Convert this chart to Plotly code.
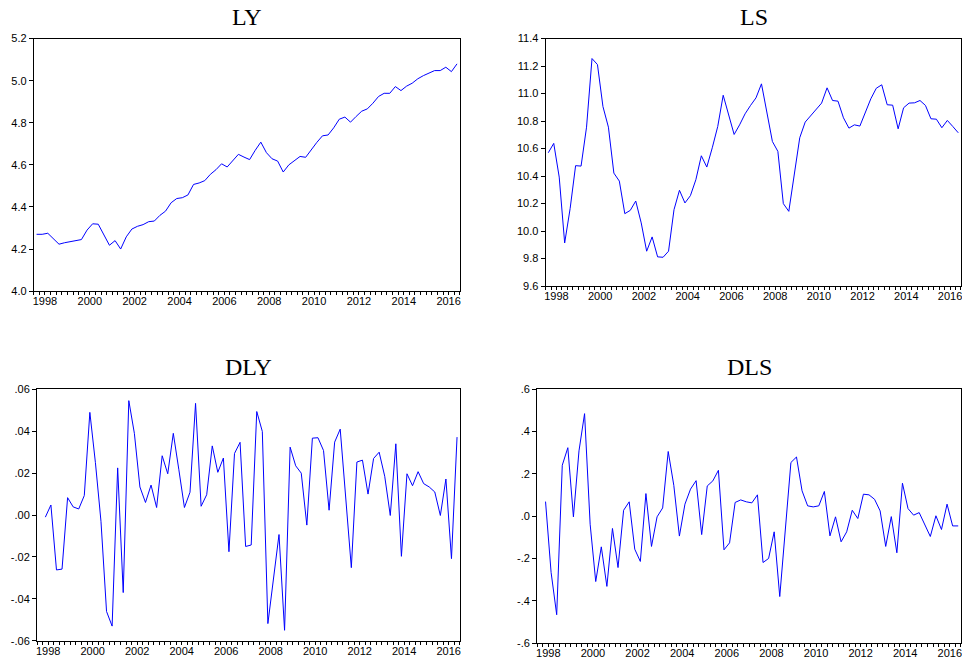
import plotly.graph_objects as go
import pandas as pd

# Quarterly sample 1998Q1 - 2016Q4
periods = pd.period_range("1998Q1", "2016Q4", freq="Q")

LY = [4.27, 4.27, 4.275, 4.25, 4.223, 4.23, 4.235, 4.237, 4.245, 4.29,
      4.32, 4.318, 4.27, 4.218, 4.24, 4.20, 4.258, 4.295, 4.308, 4.316,
      4.33, 4.333, 4.36, 4.38, 4.42, 4.44, 4.444, 4.457, 4.507, 4.514,
      4.525, 4.555, 4.577, 4.605, 4.59, 4.62, 4.65, 4.637, 4.625, 4.669,
      4.708, 4.658, 4.629, 4.618, 4.566, 4.60, 4.621, 4.64, 4.636, 4.672,
      4.707, 4.738, 4.742, 4.776, 4.817, 4.827, 4.803, 4.83, 4.855, 4.866,
      4.893, 4.925, 4.94, 4.94, 4.972, 4.953, 4.974, 4.988, 5.009, 5.024,
      5.037, 5.048, 5.048, 5.064, 5.043, 5.08]

LS = [10.57, 10.638, 10.393, 9.914, 10.164, 10.476, 10.473, 10.756, 11.255, 11.211,
      10.906, 10.756, 10.422, 10.364, 10.127, 10.151, 10.219, 10.06, 9.854, 9.958,
      9.813, 9.81, 9.854, 10.156, 10.297, 10.205, 10.258, 10.374, 10.548, 10.466,
      10.606, 10.761, 10.988, 10.835, 10.703, 10.773, 10.853, 10.914, 10.969, 11.071,
      10.865, 10.652, 10.58, 10.2, 10.144, 10.413, 10.679, 10.793, 10.841, 10.889,
      10.931, 11.042, 10.95, 10.945, 10.824, 10.749, 10.773, 10.764, 10.865, 10.962,
      11.039, 11.064, 10.919, 10.916, 10.744, 10.897, 10.931, 10.933, 10.95, 10.914,
      10.817, 10.814, 10.752, 10.805, 10.761, 10.715]

DLY = [None, -0.001, 0.0048, -0.0262, -0.0258, 0.0083, 0.0039, 0.0029, 0.0093, 0.049,
       0.025, -0.003, -0.046, -0.053, 0.0225, -0.037, 0.0546, 0.039, 0.0134, 0.006,
       0.0143, 0.0036, 0.0283, 0.0197, 0.039, 0.0216, 0.0036, 0.0109, 0.0533, 0.0042,
       0.0097, 0.033, 0.0204, 0.0272, -0.0175, 0.0294, 0.0347, -0.015, -0.0143, 0.0494,
       0.0399, -0.0518, -0.030, -0.0093, -0.055, 0.0324, 0.0235, 0.020, -0.0048, 0.0367,
       0.0369, 0.0308, 0.0023, 0.0348, 0.041, 0.009, -0.0251, 0.0253, 0.0262, 0.010,
       0.027, 0.030, 0.0185, -0.0002, 0.034, -0.0197, 0.0197, 0.014, 0.0207, 0.015,
       0.0134, 0.011, -0.0002, 0.0172, -0.0208, 0.0372]

DLS = [None, 0.069, -0.266, -0.466, 0.241, 0.324, -0.003, 0.309, 0.485, -0.038,
       -0.309, -0.145, -0.332, -0.058, -0.243, 0.028, 0.068, -0.156, -0.214, 0.107,
       -0.143, -0.003, 0.039, 0.306, 0.146, -0.094, 0.057, 0.128, 0.168, -0.087,
       0.143, 0.167, 0.217, -0.159, -0.126, 0.065, 0.077, 0.068, 0.063, 0.101,
       -0.219, -0.2, -0.074, -0.38, -0.069, 0.254, 0.28, 0.12, 0.049, 0.044,
       0.049, 0.117, -0.093, -0.003, -0.121, -0.074, 0.028, -0.011, 0.104, 0.101,
       0.08, 0.025, -0.143, -0.002, -0.173, 0.156, 0.036, 0.005, 0.017, -0.039,
       -0.096, 0.002, -0.063, 0.057, -0.046, -0.046]

x_years = [p.year + (p.quarter - 1) / 4 for p in periods]

year_labels = list(range(1998, 2017, 2))

LY_ticks = [4.0, 4.2, 4.4, 4.6, 4.8, 5.0, 5.2]
LY_ticktext = ["4.0", "4.2", "4.4", "4.6", "4.8", "5.0", "5.2"]
LS_ticks = [9.6, 9.8, 10.0, 10.2, 10.4, 10.6, 10.8, 11.0, 11.2, 11.4]
LS_ticktext = ["9.6", "9.8", "10.0", "10.2", "10.4", "10.6", "10.8", "11.0", "11.2", "11.4"]
DLY_ticks = [-0.06, -0.04, -0.02, 0.0, 0.02, 0.04, 0.06]
DLY_ticktext = ["-.06", "-.04", "-.02", ".00", ".02", ".04", ".06"]
DLS_ticks = [-0.6, -0.4, -0.2, 0.0, 0.2, 0.4, 0.6]
DLS_ticktext = ["-.6", "-.4", "-.2", ".0", ".2", ".4", ".6"]

W, H = 962, 668
INSET = 5  # effective inner inset observed in rendering


def px_x(x):
    return (x - INSET) / (W - 2 * INSET)


def px_y(y):
    return 1 - (y - INSET) / (H - 2 * INSET)


panels = [
    # name, data, yticks, ytext, yrange, (x0, x1, ytop, ybottom) in px
    ("LY", LY, LY_ticks, LY_ticktext, [4.0, 5.2], (37.5, 460, 37.7, 291)),
    ("LS", LS, LS_ticks, LS_ticktext, [9.6, 11.4], (545, 958, 37.7, 286)),
    ("DLY", DLY, DLY_ticks, DLY_ticktext, [-0.06, 0.06], (40.7, 460, 389.5, 641.7)),
    ("DLS", DLS, DLS_ticks, DLS_ticktext, [-0.6, 0.6], (536.7, 958, 389.5, 644)),
]

fig = go.Figure()
annotations = []
tickfont = dict(family="Liberation Sans, Arial, sans-serif", size=11, color="#000000")

for k, (name, data, yt, ytt, yr, (x0, x1, yt_px, yb_px)) in enumerate(panels, start=1):
    sfx = "" if k == 1 else str(k)
    fig.add_trace(go.Scatter(
        x=x_years, y=data, mode="lines",
        line=dict(color="#0000FF", width=1),
        xaxis="x" + sfx, yaxis="y" + sfx, showlegend=False, hoverinfo="x+y",
    ))
    xdom = [max(0, px_x(x0)), min(1, px_x(x1))]
    ydom = [max(0, px_y(yb_px)), min(1, px_y(yt_px))]
    fig.layout["xaxis" + sfx] = dict(
        domain=xdom, anchor="y" + sfx, range=[1997.875, 2016.875],
        tickmode="array", tickvals=[y + 0.375 for y in year_labels],
        ticktext=[str(y) for y in year_labels],
        ticks="", showgrid=False, zeroline=False,
        showline=True, linecolor="#000000", linewidth=1, mirror=True,
        tickfont=tickfont, ticklabeloverflow="allow",
        minor=dict(tickmode="linear", tick0=1997.875, dtick=0.25, ticks="outside",
                   ticklen=3, tickcolor="#000000", tickwidth=1, showgrid=False),
    )
    fig.layout["yaxis" + sfx] = dict(
        domain=ydom, anchor="x" + sfx, range=yr,
        tickmode="array", tickvals=yt, ticktext=ytt,
        ticks="outside", ticklen=4, tickcolor="#000000",
        showgrid=False, zeroline=False,
        showline=True, linecolor="#000000", linewidth=1, mirror=True,
        tickfont=tickfont, ticklabeloverflow="allow",
    )
    annotations.append(dict(
        text=name, xref="paper", yref="paper",
        x=px_x((x0 + x1) / 2), y=px_y(yt_px - 22),
        xanchor="center", yanchor="middle", showarrow=False,
        font=dict(family="Liberation Serif, Times New Roman, serif", size=24, color="#000000"),
    ))

fig.update_layout(
    width=W, height=H,
    margin=dict(l=0, r=0, t=0, b=0),
    paper_bgcolor="#FFFFFF", plot_bgcolor="#FFFFFF",
    annotations=annotations,
)

fig.write_html(
    "out.html",
    config={"displayModeBar": False},
    post_script="document.body.style.margin='0';document.body.style.padding='0';"
                "document.documentElement.style.overflow='hidden';",
)
